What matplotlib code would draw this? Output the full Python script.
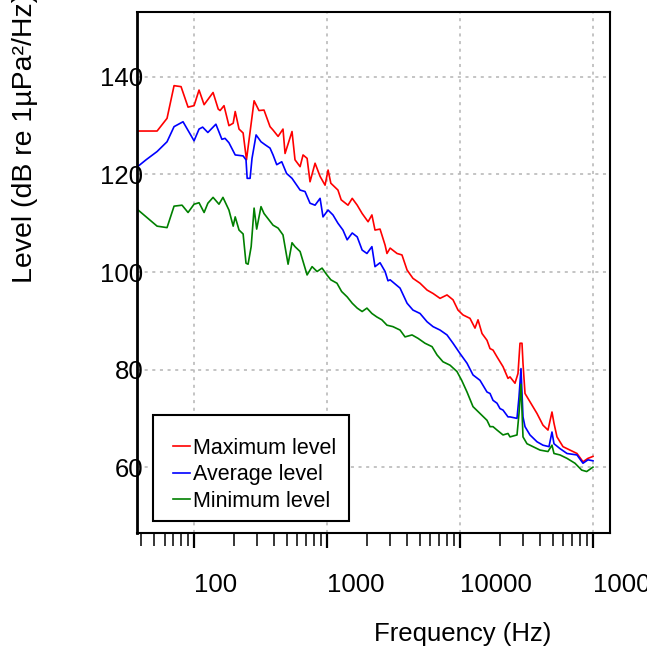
import matplotlib
matplotlib.use('Agg')
import matplotlib.pyplot as plt
from matplotlib.patches import Rectangle
from matplotlib.lines import Line2D

plt.rcParams['font.family'] = ['Liberation Sans', 'DejaVu Sans']

# Maximum level (dB re 1uPa^2/Hz)
freq_max = [37.2, 52.7, 62.6, 70.7, 79.8, 90.1, 100, 109, 119, 139, 152, 157, 168, 183,
            197, 204, 218, 234, 248, 283, 308, 336, 373, 393, 429, 467, 484, 546, 575,
            628, 661, 709, 746, 814, 888, 968, 1020, 1070, 1210, 1280, 1440, 1550, 1690,
            1840, 2040, 2180, 2300, 2510, 2740, 2830, 2990, 3370, 3670, 4010, 4440, 5020,
            5670, 6290, 7100, 8010, 8890, 9690, 10570, 11930, 13010, 13710, 14690, 16020,
            16880, 17780, 19060, 21140, 23050, 23870, 26020, 27410, 28380, 29380, 29890,
            30950, 33740, 38100, 42270, 46090, 49390, 51140, 53870, 59770, 67470, 76160,
            84520, 92150, 100500]
level_max = [128.9, 128.9, 131.5, 138.2, 138.0, 133.8, 134.1, 137.3, 134.3, 136.8, 133.4,
             133.1, 134.1, 130.0, 130.5, 132.9, 129.3, 128.5, 123.0, 135.1, 133.1, 133.2,
             129.8, 129.1, 127.8, 129.3, 124.3, 128.8, 123.0, 121.6, 124.0, 123.3, 118.5,
             122.3, 119.6, 117.8, 120.9, 118.2, 116.8, 114.8, 113.7, 115.1, 113.7, 112.0,
             110.3, 111.7, 108.6, 108.8, 105.5, 103.8, 104.9, 103.8, 103.5, 100.4, 98.7,
             97.7, 96.3, 95.6, 94.6, 95.3, 94.3, 92.2, 91.2, 90.5, 88.5, 90.2, 87.4, 86.0,
             84.3, 84.0, 82.6, 80.6, 78.2, 78.5, 77.2, 79.2, 85.4, 85.4, 81.3, 75.1, 73.4,
             71.0, 68.6, 67.6, 71.3, 69.0, 66.2, 64.2, 63.5, 62.8, 61.1, 61.8, 62.2]

# Average level
freq_avg = [37.2, 43.5, 52.7, 62.6, 70.7, 82.6, 100, 109, 116, 127, 146, 162, 171, 183,
            204, 234, 246, 251, 264, 273, 293, 319, 342, 373, 393, 419, 457, 497, 546,
            628, 684, 746, 814, 888, 934, 1020, 1110, 1210, 1320, 1420, 1550, 1690, 1840,
            2000, 2180, 2300, 2510, 2740, 2880, 2990, 3550, 4010, 4440, 5020, 5670, 6290,
            7100, 8010, 8890, 10030, 11330, 12570, 14190, 16020, 16880, 17780, 19060,
            20070, 21140, 23050, 23870, 26940, 27890, 28870, 29890, 30950, 33740, 38100,
            42270, 46900, 49390, 51140, 56750, 64060, 76160, 84520, 92150, 100500]
level_avg = [121.5, 123.0, 124.7, 126.7, 129.8, 130.8, 126.9, 129.3, 129.7, 128.6, 130.3,
             127.2, 127.4, 126.5, 124.0, 123.8, 123.0, 119.2, 119.2, 123.3, 128.1, 126.7,
             126.1, 125.4, 124.0, 122.0, 122.6, 120.2, 119.2, 116.8, 116.5, 114.1, 113.7,
             115.1, 111.3, 112.7, 111.7, 110.0, 108.6, 106.6, 108.0, 107.2, 104.5, 103.8,
             105.2, 101.1, 101.9, 100.1, 98.2, 98.4, 96.7, 93.6, 92.2, 91.5, 89.8, 88.8,
             88.1, 87.1, 85.4, 83.3, 81.3, 78.9, 77.8, 75.4, 75.1, 73.7, 73.1, 72.0, 71.7,
             70.3, 70.3, 70.0, 74.4, 80.2, 70.3, 68.3, 66.6, 65.2, 64.5, 64.2, 67.2, 64.8,
             63.8, 62.8, 62.5, 60.8, 61.5, 61.3]

# Minimum level
freq_min = [37.2, 52.7, 62.6, 70.7, 81.2, 90.1, 100, 109, 119, 127, 139, 154, 165, 183,
            197, 204, 218, 234, 246, 255, 269, 283, 296, 319, 336, 393, 429, 467, 510,
            546, 575, 628, 709, 773, 843, 919, 1000, 1070, 1190, 1290, 1420, 1550, 1690,
            1840, 2000, 2180, 2370, 2590, 2830, 3140, 3550, 3870, 4370, 4850, 5470, 6180,
            6740, 7470, 8440, 9520, 10330, 11330, 12570, 14190, 16020, 16880, 17780,
            19060, 21140, 23050, 23870, 26940, 27890, 28870, 29890, 32030, 35540, 40130,
            46090, 49390, 51140, 56750, 64060, 73560, 82630, 90100, 100500]
level_min = [112.9, 109.4, 109.1, 113.5, 113.7, 112.2, 113.9, 114.2, 112.2, 114.1, 115.3,
             113.9, 115.3, 112.7, 109.4, 111.3, 108.6, 107.8, 101.8, 101.6, 105.2, 113.1,
             108.8, 113.4, 112.0, 109.6, 109.0, 107.6, 101.6, 106.0, 105.2, 104.2, 99.4,
             101.1, 100.1, 100.8, 99.4, 98.4, 97.7, 96.0, 94.9, 93.6, 92.6, 91.9, 92.6,
             91.5, 90.8, 90.2, 89.1, 88.8, 88.1, 86.7, 87.1, 86.4, 85.4, 84.7, 83.0, 81.6,
             80.9, 79.6, 77.8, 75.4, 72.4, 71.0, 69.6, 68.3, 68.3, 67.6, 66.6, 66.9, 66.2,
             66.6, 71.0, 77.0, 66.2, 64.8, 64.2, 63.5, 63.2, 64.5, 62.8, 62.5, 61.8, 60.8,
             59.4, 59.1, 60.0]

series_labels = ['Maximum level', 'Average level', 'Minimum level']
series_colors = ['#ff0000', '#0000ff', '#008000']

x_major = [100, 1000, 10000, 100000]
x_minor = [m * d for d in (10, 100, 1000, 10000) for m in range(2, 10) if 37 < m * d]
y_major = [60, 80, 100, 120, 140]

fig = plt.figure(figsize=(6.47, 6.46), dpi=100)
ax = fig.add_axes([137 / 647, 113 / 646, 473 / 647, 521 / 646])

for f, lv, c in zip([freq_max, freq_avg, freq_min], [level_max, level_avg, level_min], series_colors):
    ax.plot(f, lv, color=c, lw=1.2)

ax.set_xscale('log')
ax.set_xlim(37.2, 135000)
ax.set_ylim(46.5, 153.3)

ax.set_xticks(x_major, labels=[str(v) for v in x_major])
ax.set_xticks(x_minor, minor=True)
ax.set_yticks(y_major, labels=[str(v) for v in y_major])
for lbl in ax.get_xticklabels():
    lbl.set_ha('left')

ax.tick_params(axis='x', which='major', direction='out', length=10.8, width=1.6,
               pad=18, labelsize=18.5)
ax.tick_params(axis='x', which='minor', direction='out', length=9.4, width=1.1)
ax.tick_params(axis='y', length=0, pad=-4.5, labelsize=18.5)

ax.grid(True, which='major', color='#b4b4b4', linestyle=(0, (2, 3)), linewidth=1.1)
for s in ax.spines.values():
    s.set_linewidth(1.5)
ax.spines['left'].set_linewidth(2)

fig.text(463 / 647, 1 - 634 / 646, 'Frequency (Hz)', fontsize=18.5, ha='center', va='center')
fig.text(25 / 647, 1 - 283 / 646, 'Level (dB re 1\u00b5Pa\u00b2/Hz)', fontsize=20.5,
         rotation=90, ha='center', va='bottom')

# legend box drawn by hand, entries on top
box = Rectangle((153 / 647, 1 - 521 / 646), 196 / 647, 106 / 646, transform=fig.transFigure,
                facecolor='white', edgecolor='black', lw=1.5, zorder=3)
fig.add_artist(box)
handles = [Line2D([], [], color=c, lw=1.2) for c in series_colors]
fig.legend(handles, series_labels, loc='upper left', bbox_to_anchor=(173 / 647, 1 - 438 / 646),
           frameon=False, fontsize=15.5, handlelength=0.8, handletextpad=0.15,
           labelspacing=0.25, borderpad=0, borderaxespad=0)

fig.savefig('out.png', dpi=100)
